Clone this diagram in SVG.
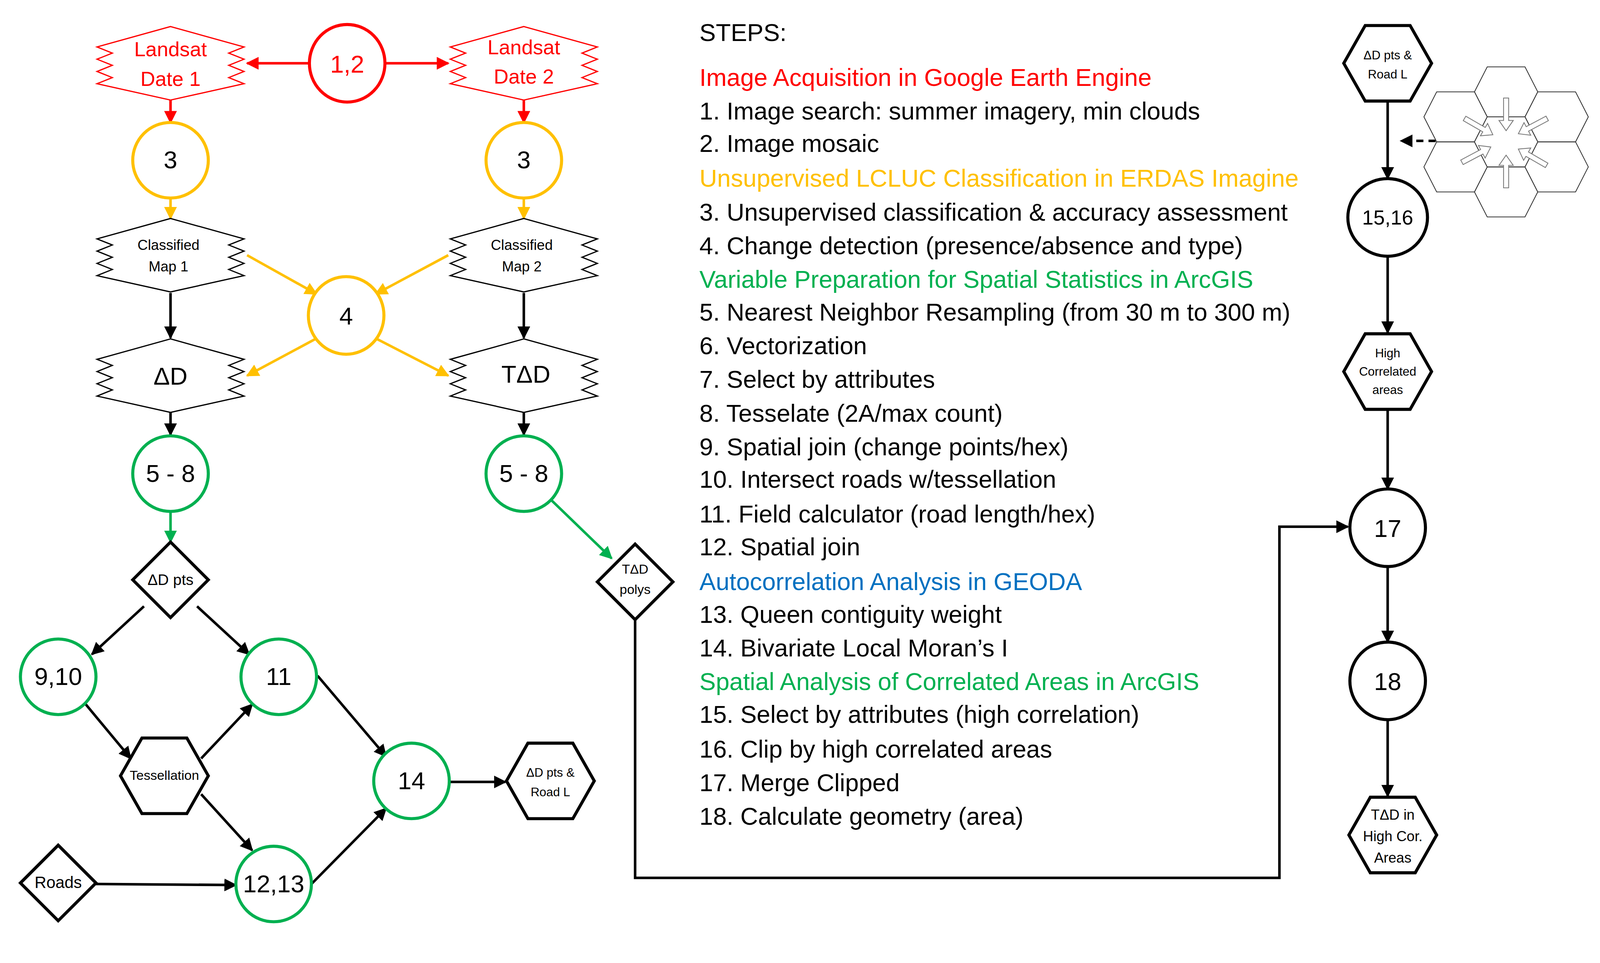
<svg xmlns="http://www.w3.org/2000/svg" width="4205" height="2466" viewBox="0 0 4205 2466">
<style>
text{font-family:"Liberation Sans",Arial,sans-serif;text-anchor:middle}
.st text{text-anchor:start;font-size:24px}
.zz{fill:#fff;stroke:#000;stroke-width:1.2}
.zr{fill:#fff;stroke:#ff0000;stroke-width:1.2}
.cr{fill:#fff;stroke:#ff0000;stroke-width:3}
.co{fill:#fff;stroke:#ffc000;stroke-width:3}
.cg{fill:#fff;stroke:#00b050;stroke-width:3}
.ck{fill:#fff;stroke:#000;stroke-width:3}
.hx{fill:#fff;stroke:#000;stroke-width:3}
.lr{stroke:#ff0000;stroke-width:2.5;fill:none;marker-end:url(#ar)}
.lo{stroke:#ffc000;stroke-width:2.5;fill:none;marker-end:url(#ao)}
.lg{stroke:#00b050;stroke-width:2.5;fill:none;marker-end:url(#ag)}
.lk{stroke:#000;stroke-width:2.5;fill:none;marker-end:url(#ak)}
.cl{fill:#fff;stroke:#333;stroke-width:0.8}
.ha{fill:#fff;stroke:#777;stroke-width:0.8}
</style>
<defs>
<marker id="ar" markerWidth="5" markerHeight="5" refX="4.5" refY="2.5" orient="auto" markerUnits="strokeWidth"><path d="M0,0L5,2.5L0,5Z" fill="#ff0000"/></marker>
<marker id="ao" markerWidth="5" markerHeight="5" refX="4.5" refY="2.5" orient="auto" markerUnits="strokeWidth"><path d="M0,0L5,2.5L0,5Z" fill="#ffc000"/></marker>
<marker id="ag" markerWidth="5" markerHeight="5" refX="4.5" refY="2.5" orient="auto" markerUnits="strokeWidth"><path d="M0,0L5,2.5L0,5Z" fill="#00b050"/></marker>
<marker id="ak" markerWidth="5" markerHeight="5" refX="4.5" refY="2.5" orient="auto" markerUnits="strokeWidth"><path d="M0,0L5,2.5L0,5Z" fill="#000"/></marker>
<path id="zig" d="M0,-36L72,-16L57,-10L72,-4L57,2L72,8L57,14L72,20L0,36L-72,20L-57,14L-72,8L-57,2L-72,-4L-57,-10L-72,-16Z"/>
<path id="hex" d="M-22,-37L22,-37L43,0L22,37L-22,37L-43,0Z"/>
<path id="dia" d="M0,-37L37,0L0,37L-37,0Z"/>
<path id="ch" d="M-18.5,-24.5L18.5,-24.5L31,0L18.5,24.5L-18.5,24.5L-31,0Z"/>
<path id="ha" d="M-32,-2.5L-10,-2.5L-10,-7L0,0L-10,7L-10,2.5L-32,2.5Z"/>
</defs>
<rect width="4205" height="2466" fill="#fff"/>
<g transform="scale(2.614)">
<g id="connectors">
<line class="lr" x1="303" y1="62" x2="242" y2="62"/>
<line class="lr" x1="377" y1="62" x2="439" y2="62"/>
<line class="lr" x1="167" y1="98" x2="167" y2="120"/>
<line class="lr" x1="513" y1="98" x2="513" y2="120"/>
<line class="lo" x1="167" y1="194" x2="167" y2="214"/>
<line class="lo" x1="513" y1="194" x2="513" y2="214"/>
<line class="lo" x1="242" y1="250" x2="310" y2="288"/>
<line class="lo" x1="439" y1="250" x2="368" y2="288"/>
<line class="lo" x1="309" y1="332" x2="242" y2="368"/>
<line class="lo" x1="369" y1="332" x2="439" y2="368"/>
<line class="lk" x1="167" y1="287" x2="167" y2="331"/>
<line class="lk" x1="513" y1="287" x2="513" y2="331"/>
<line class="lk" x1="167" y1="404" x2="167" y2="426"/>
<line class="lk" x1="513" y1="404" x2="513" y2="426"/>
<line class="lg" x1="167" y1="501" x2="167" y2="531"/>
<line class="lg" x1="540" y1="490" x2="599" y2="547"/>
<line class="lk" x1="141" y1="594" x2="90" y2="641"/>
<line class="lk" x1="193" y1="594" x2="244" y2="641"/>
<line class="lk" x1="84" y1="690" x2="128" y2="743"/>
<line class="lk" x1="197" y1="743" x2="247" y2="690"/>
<line class="lk" x1="197" y1="778" x2="247" y2="833"/>
<line class="lk" x1="311" y1="662" x2="378" y2="741"/>
<line class="lk" x1="94" y1="866" x2="231" y2="867"/>
<line class="lk" x1="305" y1="866" x2="378" y2="792"/>
<line class="lk" x1="441" y1="766" x2="495" y2="766"/>
<path class="lk" d="M622,607V860H1253V516H1320"/>
<line class="lk" x1="1359" y1="100" x2="1359" y2="175"/>
<line class="lk" x1="1359" y1="251" x2="1359" y2="326"/>
<line class="lk" x1="1359" y1="402" x2="1359" y2="479"/>
<line class="lk" x1="1359" y1="555" x2="1359" y2="629"/>
<line class="lk" x1="1359" y1="705" x2="1359" y2="780"/>
<line class="lk" x1="1406" y1="138" x2="1372" y2="138" stroke-dasharray="7,5"/>
</g>
<g id="n-landsat1"><use href="#zig" class="zr" x="167" y="62"/><text x="167" y="55" font-size="20" fill="#ff0000">Landsat</text><text x="167" y="84" font-size="20" fill="#ff0000">Date 1</text></g>
<g id="n-landsat2"><use href="#zig" class="zr" x="513" y="62"/><text x="513" y="53" font-size="20" fill="#ff0000">Landsat</text><text x="513" y="82" font-size="20" fill="#ff0000">Date 2</text></g>
<g id="n-12"><ellipse class="cr" cx="340" cy="62" rx="37" ry="38"/><text x="340" y="71" font-size="24" fill="#ff0000">1,2</text></g>
<g id="n-3a"><ellipse class="co" cx="167" cy="157" rx="37" ry="37"/><text x="167" y="165" font-size="24">3</text></g>
<g id="n-3b"><ellipse class="co" cx="513" cy="157" rx="37" ry="37"/><text x="513" y="165" font-size="24">3</text></g>
<g id="n-cm1"><use href="#zig" class="zz" x="167" y="250"/><text x="165" y="245" font-size="14">Classified</text><text x="165" y="266" font-size="14">Map 1</text></g>
<g id="n-cm2"><use href="#zig" class="zz" x="513" y="250"/><text x="511" y="245" font-size="14">Classified</text><text x="511" y="266" font-size="14">Map 2</text></g>
<g id="n-4"><ellipse class="co" cx="339" cy="309" rx="37" ry="38"/><text x="339" y="318" font-size="24">4</text></g>
<g id="n-dd"><use href="#zig" class="zz" x="167" y="368"/><text x="167" y="377" font-size="24">ΔD</text></g>
<g id="n-tdd"><use href="#zig" class="zz" x="513" y="368"/><text x="515" y="375" font-size="24">TΔD</text></g>
<g id="n-58a"><ellipse class="cg" cx="167" cy="464" rx="37" ry="37"/><text x="167" y="472" font-size="24">5 - 8</text></g>
<g id="n-58b"><ellipse class="cg" cx="513" cy="464" rx="37" ry="37"/><text x="513" y="472" font-size="24">5 - 8</text></g>
<g id="n-ddpts"><use href="#dia" class="hx" x="167" y="568"/><text x="167" y="573" font-size="15">ΔD pts</text></g>
<g id="n-tdpolys"><use href="#dia" class="hx" x="622" y="570"/><text x="622" y="562" font-size="13">TΔD</text><text x="622" y="582" font-size="13">polys</text></g>
<g id="n-910"><ellipse class="cg" cx="57" cy="663" rx="37" ry="37"/><text x="57" y="671" font-size="24">9,10</text></g>
<g id="n-11"><ellipse class="cg" cx="273" cy="663" rx="37" ry="37"/><text x="273" y="671" font-size="24">11</text></g>
<g id="n-tess"><use href="#hex" class="hx" x="161" y="760"/><text x="161" y="764" font-size="13">Tessellation</text></g>
<g id="n-14"><ellipse class="cg" cx="403" cy="765" rx="37" ry="37"/><text x="403" y="773" font-size="24">14</text></g>
<g id="n-ddroad"><use href="#hex" class="hx" x="539" y="765"/><text x="539" y="761" font-size="12">ΔD pts &amp;</text><text x="539" y="780" font-size="12">Road L</text></g>
<g id="n-roads"><use href="#dia" class="hx" x="57" y="865"/><text x="57" y="870" font-size="16">Roads</text></g>
<g id="n-1213"><ellipse class="cg" cx="268" cy="866" rx="37" ry="37"/><text x="268" y="874" font-size="24">12,13</text></g>
<g id="n-ddroad2"><use href="#hex" class="hx" x="1359" y="62"/><text x="1359" y="58" font-size="12">ΔD pts &amp;</text><text x="1359" y="77" font-size="12">Road L</text></g>
<g id="n-1516"><ellipse class="ck" cx="1359" cy="213" rx="39" ry="38"/><text x="1359" y="220" font-size="20">15,16</text></g>
<g id="n-high"><use href="#hex" class="hx" x="1359" y="364"/><text x="1359" y="350" font-size="12">High</text><text x="1359" y="368" font-size="12">Correlated</text><text x="1359" y="386" font-size="12">areas</text></g>
<g id="n-17"><ellipse class="ck" cx="1359" cy="517" rx="37" ry="38"/><text x="1359" y="526" font-size="24">17</text></g>
<g id="n-18"><ellipse class="ck" cx="1359" cy="667" rx="37" ry="38"/><text x="1359" y="676" font-size="24">18</text></g>
<g id="n-final"><use href="#hex" class="hx" x="1364" y="818"/><text x="1364" y="803" font-size="14">TΔD in</text><text x="1364" y="824" font-size="14">High Cor.</text><text x="1364" y="845" font-size="14">Areas</text></g>
<g id="hexcluster">
<use href="#ch" class="cl" x="1475" y="90"/>
<use href="#ch" class="cl" x="1475" y="188"/>
<use href="#ch" class="cl" x="1425.5" y="114.5"/>
<use href="#ch" class="cl" x="1425.5" y="163.5"/>
<use href="#ch" class="cl" x="1524.5" y="114.5"/>
<use href="#ch" class="cl" x="1524.5" y="163.5"/>
<use href="#ch" class="cl" x="1475" y="139"/>
<use href="#ha" class="ha" transform="translate(1475,128) rotate(90)"/>
<use href="#ha" class="ha" transform="translate(1475,152) rotate(-90)"/>
<use href="#ha" class="ha" transform="translate(1462,132) rotate(30)"/>
<use href="#ha" class="ha" transform="translate(1460,144) rotate(-28)"/>
<use href="#ha" class="ha" transform="translate(1487,131) rotate(152)"/>
<use href="#ha" class="ha" transform="translate(1487,146) rotate(210)"/>
</g>
<g id="steps" class="st">
<text x="685" y="40">STEPS:</text>
<text x="685" y="84" fill="#ff0000">Image Acquisition in Google Earth Engine</text>
<text x="685" y="117">1.  Image search: summer imagery, min clouds</text>
<text x="685" y="149">2.  Image mosaic</text>
<text x="685" y="183" fill="#ffc000">Unsupervised LCLUC Classification in ERDAS Imagine</text>
<text x="685" y="216">3. Unsupervised classification &amp; accuracy assessment</text>
<text x="685" y="249">4. Change detection (presence/absence and type)</text>
<text x="685" y="282" fill="#00b050">Variable Preparation for Spatial Statistics in ArcGIS</text>
<text x="685" y="314">5. Nearest Neighbor Resampling (from 30 m to 300 m)</text>
<text x="685" y="347">6. Vectorization</text>
<text x="685" y="380">7. Select by attributes</text>
<text x="685" y="413">8. Tesselate (2A/max count)</text>
<text x="685" y="446">9. Spatial join (change points/hex)</text>
<text x="685" y="478">10. Intersect roads w/tessellation</text>
<text x="685" y="512">11. Field calculator (road length/hex)</text>
<text x="685" y="544">12. Spatial join</text>
<text x="685" y="578" fill="#0070c0">Autocorrelation Analysis in GEODA</text>
<text x="685" y="610">13. Queen contiguity weight</text>
<text x="685" y="643">14. Bivariate Local Moran’s I</text>
<text x="685" y="676" fill="#00b050">Spatial Analysis of Correlated Areas in ArcGIS</text>
<text x="685" y="708">15. Select by attributes (high correlation)</text>
<text x="685" y="742">16. Clip by high correlated areas</text>
<text x="685" y="775">17. Merge Clipped</text>
<text x="685" y="808">18. Calculate geometry (area)</text>
</g>
</g>
</svg>
